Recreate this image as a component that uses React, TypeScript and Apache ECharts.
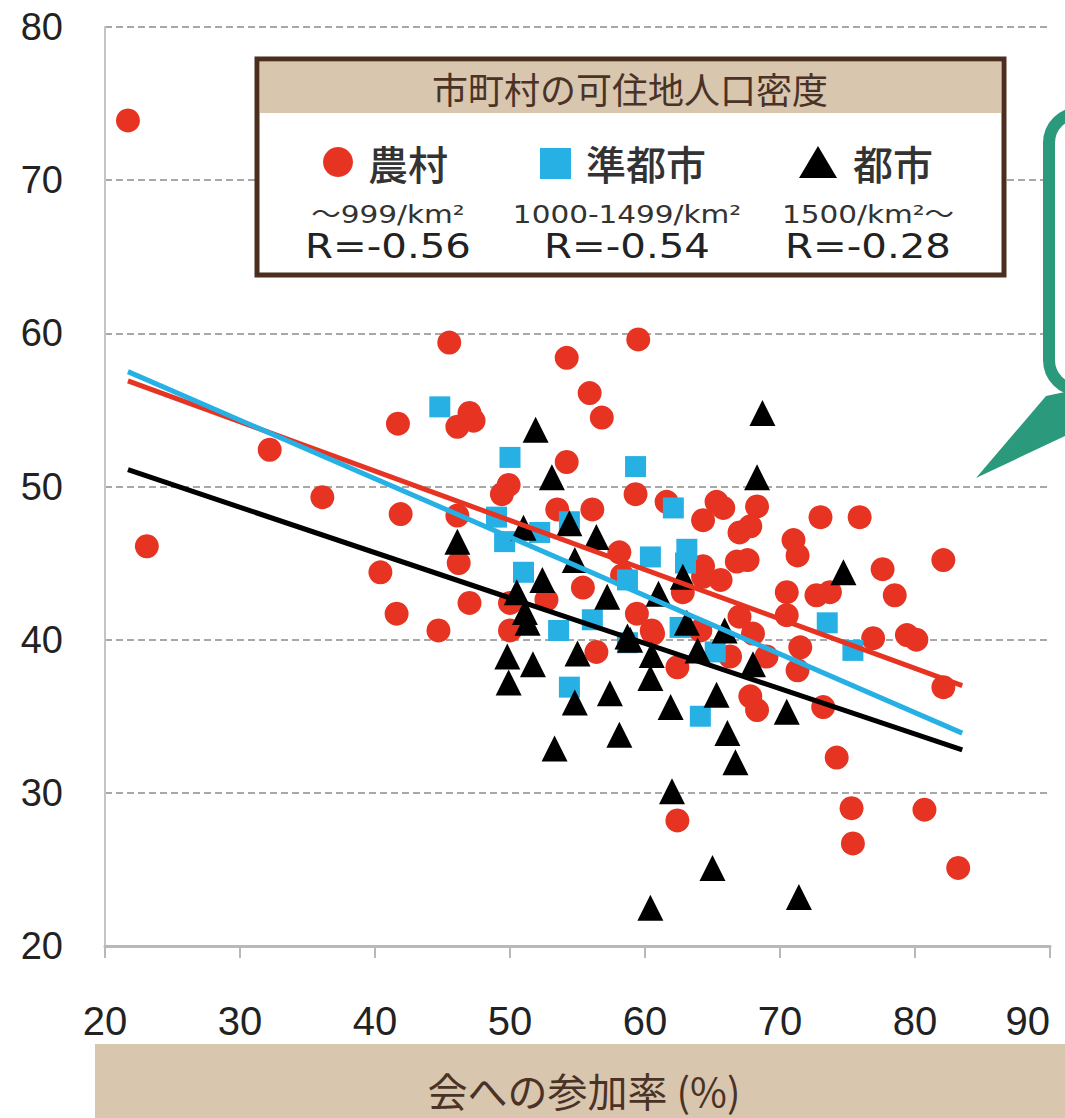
import React, { useEffect, useRef } from "react";
import * as echarts from "echarts";

// 農村 (rural) points: [参加率, y]
const ruralPoints: number[][] = [
  [21.7, 73.9], [23.1, 46.1], [32.2, 52.4], [36.1, 49.3], [41.7, 54.1], [41.9, 48.2], [40.4, 44.4],
  [41.6, 41.7], [44.7, 40.6], [45.5, 59.4], [46.1, 53.9], [47.0, 54.8], [47.3, 54.3], [46.1, 48.1],
  [46.2, 45.0], [47.0, 42.4], [54.2, 58.4], [59.5, 59.6], [55.9, 56.1], [56.8, 54.5], [54.2, 51.6],
  [49.9, 50.1], [49.4, 49.5], [53.5, 48.5], [56.1, 48.5], [59.3, 49.5], [61.6, 49.0], [64.3, 47.8],
  [65.3, 49.0], [65.8, 48.6], [68.3, 48.7], [67.0, 47.0], [67.8, 47.4], [73.0, 48.0], [75.9, 48.0],
  [71.0, 46.5], [71.3, 45.5], [58.1, 45.7], [66.8, 45.1], [67.6, 45.2], [64.3, 44.8], [65.6, 43.9],
  [62.8, 43.1], [70.5, 43.1], [72.7, 42.9], [73.7, 43.1], [59.4, 41.7], [67.0, 41.5], [70.5, 41.6],
  [68.0, 40.4], [71.5, 39.5], [71.3, 38.0], [60.6, 40.4], [62.4, 38.2], [66.3, 38.9], [69.0, 38.9],
  [67.8, 36.3], [68.3, 35.4], [73.2, 35.6], [82.1, 45.2], [77.6, 44.6], [78.5, 42.9], [79.4, 40.3],
  [80.1, 40.0], [76.9, 40.1], [82.1, 36.9], [74.2, 32.3], [75.3, 29.0], [75.4, 26.7], [80.7, 28.9],
  [83.2, 25.1], [62.4, 28.2], [58.3, 44.2], [55.4, 43.4], [50.0, 42.4], [52.7, 42.6], [50.0, 40.6],
  [56.4, 39.2], [60.5, 40.6], [64.3, 44.1], [64.1, 40.6],
];

// 準都市 (semi-urban) points
const semiUrbanPoints: number[][] = [
  [44.8, 55.2], [50.0, 51.9], [59.3, 51.3], [49.0, 48.0], [49.6, 46.4], [52.2, 47.0], [62.1, 48.6],
  [60.4, 45.4], [63.1, 45.9], [58.7, 43.9], [51.0, 44.4], [53.6, 40.6], [56.1, 41.3], [54.4, 36.9],
  [58.7, 39.8], [62.6, 40.8], [65.2, 39.2], [64.1, 35.0], [73.5, 41.1], [75.4, 39.3], [54.4, 47.7],
  [63.0, 45.0],
];

// 都市 (urban) points
const urbanPoints: number[][] = [
  [51.9, 53.7], [53.1, 50.6], [46.1, 46.4], [51.0, 47.3], [54.4, 47.6], [56.4, 46.7], [54.8, 45.2],
  [52.4, 43.9], [50.5, 43.1], [51.1, 41.8], [51.3, 41.1], [57.2, 42.8], [49.8, 38.9], [49.9, 37.2],
  [51.7, 38.4], [55.0, 39.1], [54.8, 35.9], [57.4, 36.5], [53.3, 32.9], [58.1, 33.8], [58.9, 40.0],
  [60.5, 39.0], [60.4, 37.5], [61.9, 35.6], [63.1, 41.1], [63.9, 39.3], [65.3, 36.4], [66.1, 33.9],
  [66.7, 32.0], [62.0, 30.1], [65.0, 25.1], [60.4, 22.5], [71.4, 23.2], [68.0, 38.4], [70.5, 35.3],
  [68.7, 54.8], [68.3, 50.6], [74.7, 44.4], [62.8, 44.1], [61.0, 43.0], [65.9, 40.6], [58.7, 40.2],
];

// regression lines (endpoints)
const ruralLine: number[][] = [[21.7, 56.9], [83.5, 37.0]];
const semiUrbanLine: number[][] = [[21.7, 57.5], [83.5, 33.9]];
const urbanLine: number[][] = [[21.7, 51.1], [83.5, 32.8]];

const xTicks = { min: 20, max: 90, interval: 10 };
const yTicks = { min: 20, max: 80, interval: 10 };

const legendTitle = "市町村の可住地人口密度";
const groupNames = ["農村", "準都市", "都市"];
const groupRanges = ["～999/km²", "1000-1499/km²", "1500/km²～"];
const groupR = ["R=-0.56", "R=-0.54", "R=-0.28"];
const xAxisName = "会への参加率 (%)";

const RED = "#e63322";
const BLUE = "#27b0e4";
const BLACK = "#000000";
const TAN = "#d9c6af";
const BROWN = "#4b2e1e";
const GREEN = "#2b997b";
const CJK = "'Noto Sans CJK JP', 'Noto Sans', sans-serif";
const LAT = "'DejaVu Sans', 'Noto Sans CJK JP', sans-serif";
const NARROW = "'Liberation Sans Narrow', 'Liberation Sans', Arial, sans-serif";

export default function App() {
  const ref = useRef<HTMLDivElement>(null);
  useEffect(() => {
    document.body.style.margin = "0";
    if (!ref.current) return;
    const chart = echarts.init(ref.current, undefined, { renderer: "svg" });
    const centers = [388, 627, 868];
    const option: any = {
      animation: false,
      backgroundColor: "#ffffff",
      grid: { left: 105, right: 15, top: 27, bottom: 172, containLabel: false, outerBoundsMode: "none" },
      xAxis: {
        type: "value",
        min: xTicks.min,
        max: xTicks.max,
        interval: xTicks.interval,
        axisLine: { show: true, lineStyle: { color: "#b8b8b8", width: 3 } },
        axisTick: { show: true, length: 12, lineStyle: { color: "#b8b8b8", width: 2 } },
        axisLabel: { margin: 55, fontSize: 40, fontFamily: NARROW, color: "#222", alignMaxLabel: "right" },
        splitLine: { show: false },
      },
      yAxis: {
        type: "value",
        min: yTicks.min,
        max: yTicks.max,
        interval: yTicks.interval,
        axisLine: { show: true, lineStyle: { color: "#c4c4c4", width: 2 } },
        axisTick: { show: false },
        axisLabel: { margin: 42, fontSize: 38, fontFamily: NARROW, color: "#222" },
        splitLine: { show: true, lineStyle: { color: "#a8a8a8", width: 2, type: [7, 4] } },
      },
      series: [
        { type: "scatter", data: ruralPoints, symbol: "circle", symbolSize: 24, itemStyle: { color: RED, opacity: 1 }, z: 2 },
        { type: "scatter", data: semiUrbanPoints, symbol: "rect", symbolSize: 21, itemStyle: { color: BLUE, opacity: 1 }, z: 3 },
        { type: "scatter", data: urbanPoints, symbol: "triangle", symbolSize: 26, itemStyle: { color: BLACK, opacity: 1 }, z: 4 },
        { type: "line", data: ruralLine, showSymbol: false, symbol: "none", lineStyle: { color: RED, width: 5 }, z: 5 },
        { type: "line", data: semiUrbanLine, showSymbol: false, symbol: "none", lineStyle: { color: BLUE, width: 5 }, z: 5 },
        { type: "line", data: urbanLine, showSymbol: false, symbol: "none", lineStyle: { color: BLACK, width: 5 }, z: 5 },
      ],
      graphic: [
        // legend box
        { type: "rect", z: 10, shape: { x: 257, y: 59, width: 747, height: 216 }, style: { fill: "#ffffff", stroke: BROWN, lineWidth: 5 } },
        { type: "rect", z: 11, shape: { x: 260, y: 62, width: 741, height: 51 }, style: { fill: TAN } },
        { type: "text", z: 12, x: 630, y: 88, style: { text: legendTitle, fontSize: 36, fontFamily: CJK, fill: "#4a3326", textAlign: "center", textVerticalAlign: "middle" } },
        // symbols
        { type: "circle", z: 12, shape: { cx: 338, cy: 162, r: 15 }, style: { fill: RED } },
        { type: "rect", z: 12, shape: { x: 540, y: 148, width: 31, height: 31 }, style: { fill: BLUE } },
        { type: "polygon", z: 12, shape: { points: [[818, 146], [837, 178], [799, 178]] }, style: { fill: BLACK } },
        { type: "text", z: 12, x: 368, y: 163, style: { text: groupNames[0], fontSize: 40, fontFamily: CJK, fontWeight: 500, fill: "#333", textAlign: "left", textVerticalAlign: "middle" } },
        { type: "text", z: 12, x: 586, y: 163, style: { text: groupNames[1], fontSize: 40, fontFamily: CJK, fontWeight: 500, fill: "#333", textAlign: "left", textVerticalAlign: "middle" } },
        { type: "text", z: 12, x: 853, y: 163, style: { text: groupNames[2], fontSize: 40, fontFamily: CJK, fontWeight: 500, fill: "#333", textAlign: "left", textVerticalAlign: "middle" } },
        ...centers.map((cx, i) => ({
          type: "text", z: 12, x: cx, y: 214, scaleX: 1.18,
          style: { text: groupRanges[i], fontSize: 25, fontFamily: LAT, fill: "#333", textAlign: "center", textVerticalAlign: "middle" },
        })),
        ...centers.map((cx, i) => ({
          type: "text", z: 12, x: cx, y: 247, scaleX: 1.22,
          style: { text: groupR[i], fontSize: 33, fontFamily: LAT, fill: "#222", textAlign: "center", textVerticalAlign: "middle" },
        })),
        // callout bubble
        { type: "rect", z: 9, shape: { x: 1049, y: 113, width: 220, height: 277, r: 30 }, style: { fill: "#ffffff", stroke: GREEN, lineWidth: 12 } },
        { type: "polygon", z: 9, shape: { points: [[976, 478], [1046, 396], [1065, 392], [1065, 436]] }, style: { fill: GREEN } },
        // x axis name band
        { type: "rect", z: 9, shape: { x: 95, y: 1044, width: 970, height: 74 }, style: { fill: TAN } },
        { type: "text", z: 10, x: 584, y: 1090, style: { text: xAxisName, fontSize: 40, fontFamily: CJK, fill: "#4a3326", textAlign: "center", textVerticalAlign: "middle" } },
      ],
    };
    chart.setOption(option);
    return () => chart.dispose();
  }, []);
  return <div ref={ref} style={{ position: "absolute", left: 0, top: 0, width: 1065, height: 1118 }} />;
}
